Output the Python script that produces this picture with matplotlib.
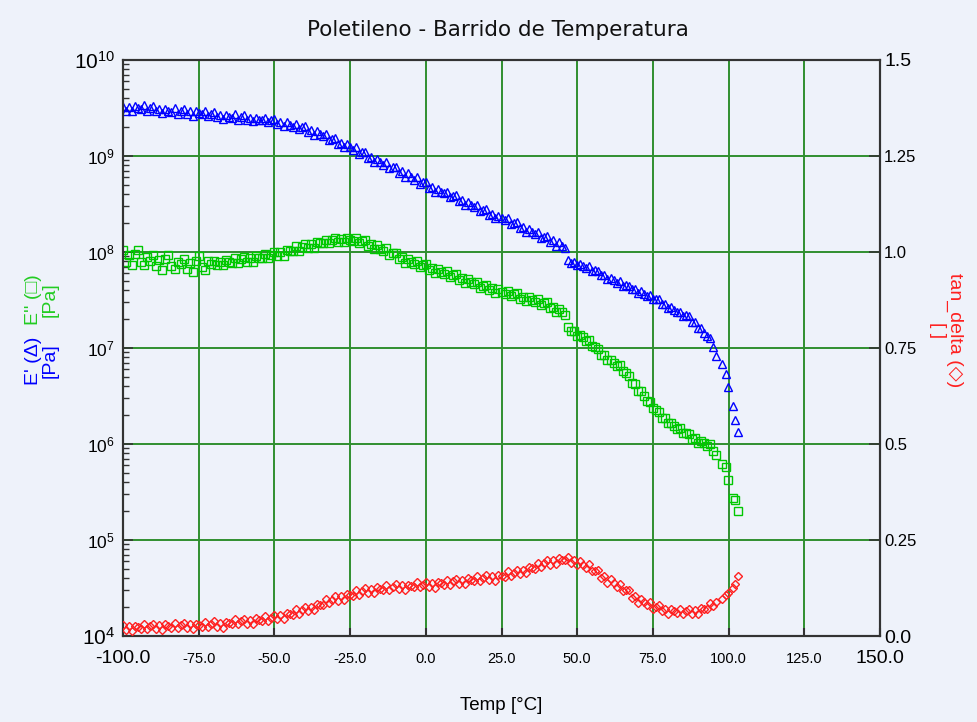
import numpy as np
import matplotlib
matplotlib.use("Agg")
import matplotlib.pyplot as plt
from matplotlib.ticker import LogLocator, NullFormatter, FixedLocator

# temperature sweep [°C]: 1 degree steps up to 95, then the last few readings
temp = list(range(-100, 96)) + [96.0, 97.7, 99.1, 99.9, 101.3, 102.1, 103.2]

# E' storage modulus, log10(Pa)
log_e1 = [
    9.51, 9.47, 9.51, 9.47, 9.52, 9.50, 9.49, 9.53, 9.47, 9.50,
    9.52, 9.47, 9.49, 9.45, 9.49, 9.47, 9.46, 9.50, 9.44, 9.47,
    9.49, 9.44, 9.47, 9.42, 9.47, 9.45, 9.44, 9.47, 9.42, 9.44,
    9.46, 9.41, 9.43, 9.39, 9.43, 9.41, 9.40, 9.44, 9.38, 9.41,
    9.43, 9.38, 9.40, 9.36, 9.40, 9.38, 9.37, 9.40, 9.35, 9.37,
    9.39, 9.33, 9.35, 9.31, 9.35, 9.32, 9.30, 9.33, 9.28, 9.30,
    9.31, 9.25, 9.27, 9.22, 9.26, 9.23, 9.21, 9.23, 9.17, 9.18,
    9.19, 9.13, 9.14, 9.09, 9.12, 9.09, 9.06, 9.09, 9.02, 9.04,
    9.04, 8.98, 8.99, 8.94, 8.97, 8.94, 8.91, 8.94, 8.87, 8.89,
    8.89, 8.82, 8.84, 8.78, 8.82, 8.78, 8.75, 8.78, 8.71, 8.73,
    8.73, 8.67, 8.68, 8.63, 8.66, 8.63, 8.61, 8.63, 8.57, 8.58,
    8.59, 8.53, 8.54, 8.49, 8.52, 8.49, 8.47, 8.49, 8.43, 8.44,
    8.45, 8.39, 8.40, 8.35, 8.38, 8.35, 8.33, 8.35, 8.29, 8.30,
    8.31, 8.25, 8.26, 8.21, 8.24, 8.21, 8.19, 8.21, 8.15, 8.16,
    8.17, 8.10, 8.12, 8.06, 8.10, 8.06, 8.04,
    7.92, 7.89, 7.90, 7.86, 7.88, 7.85, 7.83, 7.85, 7.80, 7.81,
    7.80, 7.76, 7.76, 7.72, 7.73, 7.71, 7.68, 7.70, 7.65, 7.66,
    7.65, 7.61, 7.61, 7.57, 7.59, 7.56, 7.54, 7.55, 7.51, 7.51,
    7.51, 7.46, 7.46, 7.42, 7.43, 7.40, 7.37, 7.38, 7.33, 7.34,
    7.33, 7.27, 7.27, 7.21, 7.21, 7.16, 7.12, 7.10, 7.01,
    6.92, 6.83, 6.73, 6.59, 6.40, 6.25, 6.12,
]

# E'' loss modulus, log10(Pa)
log_e2 = [
    8.02, 7.90, 7.97, 7.86, 7.98, 8.02, 7.90, 7.86, 7.95, 7.91,
    7.97, 7.85, 7.92, 7.81, 7.93, 7.97, 7.85, 7.82, 7.90, 7.87,
    7.93, 7.82, 7.89, 7.79, 7.91, 7.96, 7.84, 7.81, 7.91, 7.88,
    7.91, 7.86, 7.90, 7.86, 7.92, 7.90, 7.89, 7.94, 7.89, 7.93,
    7.95, 7.90, 7.94, 7.90, 7.96, 7.94, 7.94, 7.98, 7.94, 7.97,
    8.00, 7.96, 8.00, 7.96, 8.02, 8.01, 8.01, 8.06, 8.01, 8.05,
    8.08, 8.04, 8.08, 8.04, 8.10, 8.09, 8.09, 8.13, 8.09, 8.12,
    8.15, 8.10, 8.14, 8.10, 8.15, 8.13, 8.11, 8.15, 8.09, 8.11,
    8.12, 8.06, 8.08, 8.03, 8.07, 8.03, 8.01, 8.04, 7.97, 7.99,
    7.99, 7.93, 7.95, 7.89, 7.93, 7.90, 7.88, 7.91, 7.84, 7.86,
    7.87, 7.81, 7.83, 7.78, 7.82, 7.79, 7.77, 7.80, 7.74, 7.76,
    7.77, 7.71, 7.73, 7.68, 7.72, 7.69, 7.67, 7.69, 7.63, 7.65,
    7.66, 7.60, 7.62, 7.57, 7.61, 7.58, 7.56, 7.59, 7.54, 7.56,
    7.57, 7.51, 7.53, 7.49, 7.53, 7.50, 7.48, 7.51, 7.45, 7.47,
    7.48, 7.42, 7.43, 7.38, 7.41, 7.37, 7.34,
    7.22, 7.18, 7.18, 7.13, 7.14, 7.11, 7.07, 7.08, 7.02, 7.01,
    6.99, 6.93, 6.93, 6.87, 6.88, 6.84, 6.81, 6.82, 6.76, 6.74,
    6.71, 6.64, 6.62, 6.55, 6.55, 6.50, 6.45, 6.44, 6.37, 6.35,
    6.33, 6.27, 6.27, 6.22, 6.22, 6.19, 6.16, 6.17, 6.11, 6.11,
    6.10, 6.05, 6.06, 6.01, 6.03, 6.01, 5.98, 6.00, 5.93,
    5.89, 5.79, 5.76, 5.63, 5.44, 5.42, 5.30,
]

# tan delta [-]
tan_delta = [
    .029, .015, .025, .013, .027, .023, .019, .032, .018, .026,
    .032, .018, .028, .016, .030, .025, .021, .034, .021, .028,
    .034, .021, .030, .018, .032, .028, .024, .037, .024, .031,
    .038, .024, .034, .022, .037, .033, .030, .043, .030, .038,
    .045, .032, .042, .031, .046, .041, .038, .052, .039, .047,
    .055, .043, .054, .044, .060, .057, .055, .070, .058, .068,
    .076, .065, .076, .067, .083, .081, .080, .096, .085, .094,
    .103, .092, .103, .093, .110, .107, .105, .120, .108, .117,
    .125, .112, .122, .112, .127, .123, .120, .134, .120, .128,
    .135, .122, .132, .120, .134, .130, .127, .140, .127, .134,
    .141, .128, .138, .126, .141, .137, .134, .147, .134, .142,
    .149, .136, .146, .135, .150, .146, .143, .156, .143, .151,
    .158, .145, .155, .144, .160, .156, .154, .168, .156, .165,
    .173, .161, .172, .163, .179, .177, .175, .191, .179, .189,
    .197, .186, .197, .187, .203, .199, .197,
    .207, .191, .198, .184, .195, .186, .178, .187, .168, .170,
    .171, .152, .156, .139, .148, .138, .128, .136, .117, .119,
    .119, .100, .104, .087, .097, .088, .080, .089, .071, .076,
    .080, .064, .071, .057, .070, .064, .059, .071, .057, .064,
    .070, .057, .067, .057, .073, .071, .070, .087, .077,
    .088, .097, .106, .112, .125, .135, .155,
]

x_ticks = [-100, -75, -50, -25, 0, 25, 50, 75, 100, 125, 150]
right_ticks = [0.0, 0.25, 0.5, 0.75, 1.0, 1.25, 1.5]
right_labels = ["0.0", "0.25", "0.5", "0.75", "1.0", "1.25", "1.5"]

bg = "#eef2fa"
grid_col = "#2f8f2f"
blue = "#0000ff"
green = "#00c800"
red = "#ff2020"
font = ["Liberation Sans", "DejaVu Sans"]

e1 = 10 ** np.array(log_e1)
e2 = 10 ** np.array(log_e2)

fig = plt.figure(figsize=(9.78, 7.22), dpi=100, facecolor=bg)
ax = fig.add_axes([0.1258, 0.1191, 0.7740, 0.7978])
ax.set_facecolor(bg)
ax.set_yscale("log")
ax.set_xlim(-100, 150)
ax.set_ylim(1e4, 1e10)

ax.plot(temp, e1, ls="none", marker="^", ms=6.4, mfc="none", mec=blue, mew=1.0, zorder=3)
ax.plot(temp, e2, ls="none", marker="s", ms=6.2, mfc="none", mec=green, mew=1.0, zorder=3)

ax2 = ax.twinx()
ax2.set_ylim(0, 1.5)
ax2.plot(temp, tan_delta, ls="none", marker="D", ms=4.5, mfc="none", mec=red, mew=1.0, zorder=3)

# grid
ax.set_axisbelow(True)
ax.set_xticks(x_ticks)
ax.grid(True, which="major", color=grid_col, lw=1.4)
ax.yaxis.set_major_locator(LogLocator(base=10, numticks=10))
ax.yaxis.set_minor_locator(LogLocator(base=10, subs=np.arange(2, 10), numticks=20))
ax.yaxis.set_minor_formatter(NullFormatter())

# x tick labels, end labels drawn larger
ax.set_xticklabels([f"{v:.1f}" for v in x_ticks])
for i, lab in enumerate(ax.get_xticklabels()):
    lab.set_family(font)
    if i in (0, len(x_ticks) - 1):
        lab.set_fontsize(14)
    else:
        lab.set_fontsize(10.5)
        lab.set_y(-0.004)

decades = [4, 5, 6, 7, 8, 9, 10]
ax.set_yticks([10.0 ** d for d in decades])
ax.set_yticklabels([rf"$\mathregular{{10^{{{d}}}}}$" for d in decades])
for i, lab in enumerate(ax.get_yticklabels()):
    lab.set_family(font)
    lab.set_fontsize(15 if i in (0, len(decades) - 1) else 12.5)

ax2.yaxis.set_major_locator(FixedLocator(right_ticks))
ax2.set_yticklabels(right_labels)
for i, lab in enumerate(ax2.get_yticklabels()):
    lab.set_family(font)
    lab.set_fontsize(14 if i in (0, len(right_ticks) - 1) else 12)

ax.tick_params(axis="x", direction="in", length=6, width=1.5, color="#333333", pad=10)
ax.tick_params(axis="y", which="major", direction="in", length=7, width=1.2, color="#333333", pad=6)
ax.tick_params(axis="y", which="minor", direction="in", length=4, width=1.0, color="#333333")
ax2.tick_params(axis="y", direction="in", length=8, width=1.2, color="#333333", pad=3)

for a in (ax, ax2):
    for s in a.spines.values():
        s.set_color("#333333")
        s.set_linewidth(1.5)

fig.text(0.509, 0.958, "Poletileno - Barrido de Temperatura", ha="center", va="center",
         fontsize=15.5, family=["DejaVu Sans"], color="#111111")
fig.text(0.512, 0.023, "Temp [°C]", ha="center", va="center", fontsize=13.5, family=font)

fig.text(0.043, 0.500, "E' (Δ)\n[Pa]", rotation=90, ha="center", va="center",
         fontsize=14, family=font, color=blue, multialignment="center", linespacing=1.0)
fig.text(0.043, 0.585, "E'' (□)\n[Pa]", rotation=90, ha="center", va="center",
         fontsize=14, family=font, color="#22cc22", multialignment="center", linespacing=1.0)
fig.text(0.967, 0.543, "tan_delta (◇)\n[ ]", rotation=-90, ha="center", va="center",
         fontsize=14, family=font, color=red, multialignment="center", linespacing=1.0)

fig.savefig("out.png", dpi=100, facecolor=bg)
